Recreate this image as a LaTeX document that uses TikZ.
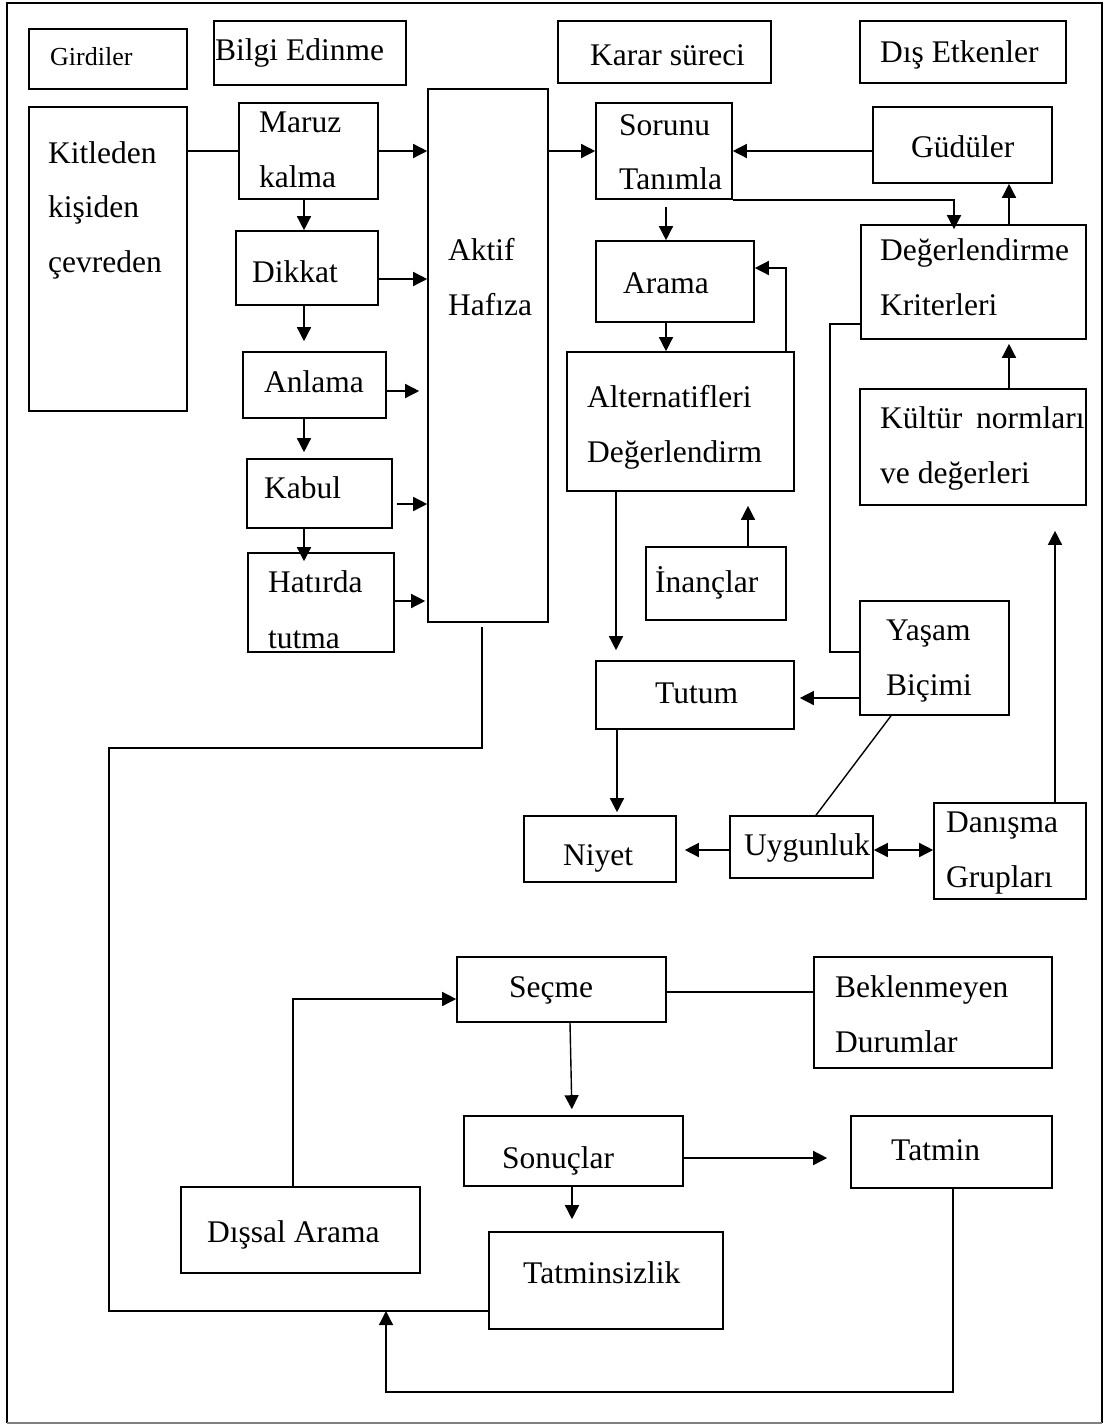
\documentclass[tikz,border=0pt]{standalone}
\usepackage{fontspec}
\setmainfont{Liberation Serif}
\usetikzlibrary{arrows.meta}
\tikzset{
  box/.style={draw, rectangle, line width=1.6pt, inner sep=0pt},
  txt/.style={inner sep=0pt, anchor=base west, font=\fontsize{31.5}{38}\selectfont},
  smalltxt/.style={txt, font=\fontsize{26}{32}\selectfont},
  link/.style={line width=1.4pt},
  arr/.style={link, -{Triangle[length=14pt,width=14pt]}},
  darr/.style={link, {Triangle[length=14pt,width=14pt]}-{Triangle[length=14pt,width=14pt]}},
}
% box given by its corners: name, x1, y1, x2, y2
\newcommand{\bx}[5]{\node[box, minimum width={(#4-#2)*1pt}, minimum height={(#5-#3)*1pt}] (#1) at ({(#2+#4)/2},{(#3+#5)/2}) {};}
% one line of text: name, x, baseline, text
\newcommand{\tx}[4]{\node[txt] (#1) at (#2,#3) {#4};}
\begin{document}
\begin{tikzpicture}[x=1pt, y=-1pt]
\useasboundingbox (0,0) rectangle (1105,1425);
\fill[white] (0,0) rectangle (1105,1425);
% outer frame
\draw[line width=2pt] (7,1423) -- (7,3) -- (1102,3) -- (1102,1423);
\draw[line width=1.2pt, gray] (7,1423) -- (1102,1423);

% column headers
\bx{hgir}{29}{29}{187}{89}
\node[smalltxt] (thgir) at (50,65) {Girdiler};
\bx{hbil}{214}{21}{406}{85}
\tx{thbil}{215}{60}{Bilgi Edinme}
\bx{hkar}{558}{21}{771}{83}
\tx{thkar}{590}{65}{Karar süreci}
\bx{hdis}{860}{21}{1066}{83}
\tx{thdis}{880}{62}{Dış Etkenler}

% inputs and information processing
\bx{kit}{29}{107}{187}{411}
\tx{tkit1}{48}{163}{Kitleden}
\tx{tkit2}{48}{217}{kişiden}
\tx{tkit3}{48}{272}{çevreden}
\bx{maruz}{239}{103}{378}{199}
\tx{tmar1}{259}{132}{Maruz}
\tx{tmar2}{259}{187}{kalma}
\bx{dikkat}{236}{231}{378}{305}
\tx{tdik}{252}{282}{Dikkat}
\bx{anlama}{243}{352}{386}{418}
\tx{tanl}{264}{392}{Anlama}
\bx{kabul}{247}{459}{392}{528}
\tx{tkab}{264}{498}{Kabul}
\bx{hatir}{248}{553}{394}{652}
\tx{that1}{268}{592}{Hatırda}
\tx{that2}{268}{648}{tutma}
\bx{aktif}{428}{89}{548}{622}
\tx{takt1}{448}{260}{Aktif}
\tx{takt2}{448}{315}{Hafıza}

% decision process
\bx{sorunu}{596}{103}{732}{199}
\tx{tsor1}{619}{135}{Sorunu}
\tx{tsor2}{619}{189}{Tanımla}
\bx{arama}{596}{241}{754}{322}
\tx{tara}{623}{293}{Arama}
\bx{alt}{567}{352}{794}{491}
\tx{talt1}{587}{407}{Alternatifleri}
\tx{talt2}{587}{462}{Değerlendirm}
\bx{inanc}{646}{547}{786}{620}
\tx{tina}{655}{592}{İnançlar}
\bx{tutum}{596}{661}{794}{729}
\tx{ttut}{655}{703}{Tutum}
\bx{niyet}{524}{816}{676}{882}
\tx{tniy}{563}{865}{Niyet}
\bx{uyg}{730}{816}{873}{878}
\tx{tuyg}{744}{855}{Uygunluk}

% external factors
\bx{gudu}{873}{107}{1052}{183}
\tx{tgud}{911}{157}{Güdüler}
\bx{deger}{861}{225}{1086}{339}
\tx{tdeg1}{880}{260}{Değerlendirme}
\tx{tdeg2}{880}{315}{Kriterleri}
\bx{kultur}{860}{389}{1086}{505}
\tx{tkul1}{880}{428}{Kültür}
\tx{tkul2}{976}{428}{normları}
\tx{tkul3}{880}{483}{ve değerleri}
\bx{yasam}{860}{601}{1009}{715}
\tx{tyas1}{886}{640}{Yaşam}
\tx{tyas2}{886}{695}{Biçimi}
\bx{danis}{934}{803}{1086}{899}
\tx{tdan1}{946}{832}{Danışma}
\tx{tdan2}{946}{887}{Grupları}

% purchase and outcomes
\bx{secme}{457}{957}{666}{1022}
\tx{tsec}{509}{997}{Seçme}
\bx{bekl}{814}{957}{1052}{1068}
\tx{tbek1}{835}{997}{Beklenmeyen}
\tx{tbek2}{835}{1052}{Durumlar}
\bx{sonuc}{464}{1116}{683}{1186}
\tx{tson}{502}{1168}{Sonuçlar}
\bx{tatmin}{851}{1116}{1052}{1188}
\tx{ttat}{891}{1160}{Tatmin}
\bx{tatsiz}{489}{1232}{723}{1329}
\tx{ttsz}{523}{1283}{Tatminsizlik}
\bx{dissal}{181}{1187}{420}{1273}
\tx{tdis}{207}{1242}{Dışsal Arama}

% information processing connectors
\draw[link] (kit.east |- 0,151) -- (maruz.west |- 0,151);
\draw[arr] (maruz.east |- 0,151) -- (aktif.west |- 0,151);
\draw[arr] (dikkat.east |- 0,279) -- (aktif.west |- 0,279);
\draw[arr, shorten >=8pt] (anlama.east |- 0,391) -- (aktif.west |- 0,391);
\draw[arr, shorten <=4pt] (kabul.east |- 0,504) -- (aktif.west |- 0,504);
\draw[arr, shorten <=-1pt, shorten >=2pt] (hatir.east |- 0,601) -- (aktif.west |- 0,601);
\draw[arr] (maruz.south -| 304,0) -- (dikkat.north -| 304,0);
\draw[arr, shorten >=10pt] (dikkat.south -| 304,0) -- (anlama.north -| 304,0);
\draw[arr, shorten >=6pt] (anlama.south -| 304,0) -- (kabul.north -| 304,0);
\draw[arr, shorten >=-9pt] (kabul.south -| 304,0) -- (hatir.north -| 304,0);

% memory to dissatisfaction feedback
\draw[link, shorten <=4pt] (aktif.south -| 482,0) -- (482,748) -- (109,748) -- (109,1311) -- (tatsiz.west |- 0,1311);
\coordinate (loopend) at (386,1311);
\draw[arr] (tatmin.south -| 953,0) -- (953,1392) -| (loopend);

% decision process connectors
\draw[arr] (aktif.east |- 0,151) -- (sorunu.west |- 0,151);
\draw[arr] (gudu.west |- 0,151) -- (sorunu.east |- 0,151);
\draw[arr, shorten >=-5pt] (sorunu.south east) -| (deger.north -| 954,0);
\draw[arr] (deger.north -| 1009,0) -- (gudu.south -| 1009,0);
\draw[arr, shorten <=7pt] (sorunu.south -| 666,0) -- (arama.north -| 666,0);
\draw[arr] (arama.south -| 666,0) -- (alt.north -| 666,0);
\draw[arr] (alt.north -| 786,0) |- (arama.east |- 0,268);
\draw[link] (deger.west |- 0,324) -- (830,324) -- (830,652) -- (yasam.west |- 0,652);
\draw[arr, shorten >=4pt] (kultur.north -| 1009,0) -- (deger.south -| 1009,0);
\draw[arr, shorten >=14pt] (inanc.north -| 748,0) -- (alt.south -| 748,0);
\draw[arr, shorten >=10pt] (alt.south -| 616,0) -- (tutum.north -| 616,0);
\draw[arr, shorten >=25pt] (danis.north -| 1055,0) -- (kultur.south -| 1055,0);
\draw[arr, shorten >=5pt] (yasam.west |- 0,698) -- (tutum.east |- 0,698);
\draw[arr, shorten >=3pt] (tutum.south -| 617,0) -- (niyet.north -| 617,0);
\draw[arr, shorten >=8pt] (uyg.west |- 0,850) -- (niyet.east |- 0,850);
\draw[darr] (uyg.east |- 0,850) -- (danis.west |- 0,850);
\draw[link] (yasam.south -| 891,0) -- (uyg.north -| 816,0);

% purchase and outcome connectors
\draw[arr] (dissal.north -| 293,0) |- (secme.west |- 0,999);
\draw[link] (secme.east |- 0,992) -- (bekl.west |- 0,992);
\draw[arr, shorten >=6pt] (secme.south -| 570,0) -- (sonuc.north -| 572,0);
\draw[arr, shorten >=23pt] (sonuc.east |- 0,1158) -- (tatmin.west |- 0,1158);
\draw[arr, shorten >=12pt] (sonuc.south -| 572,0) -- (tatsiz.north -| 572,0);
\end{tikzpicture}
\end{document}
